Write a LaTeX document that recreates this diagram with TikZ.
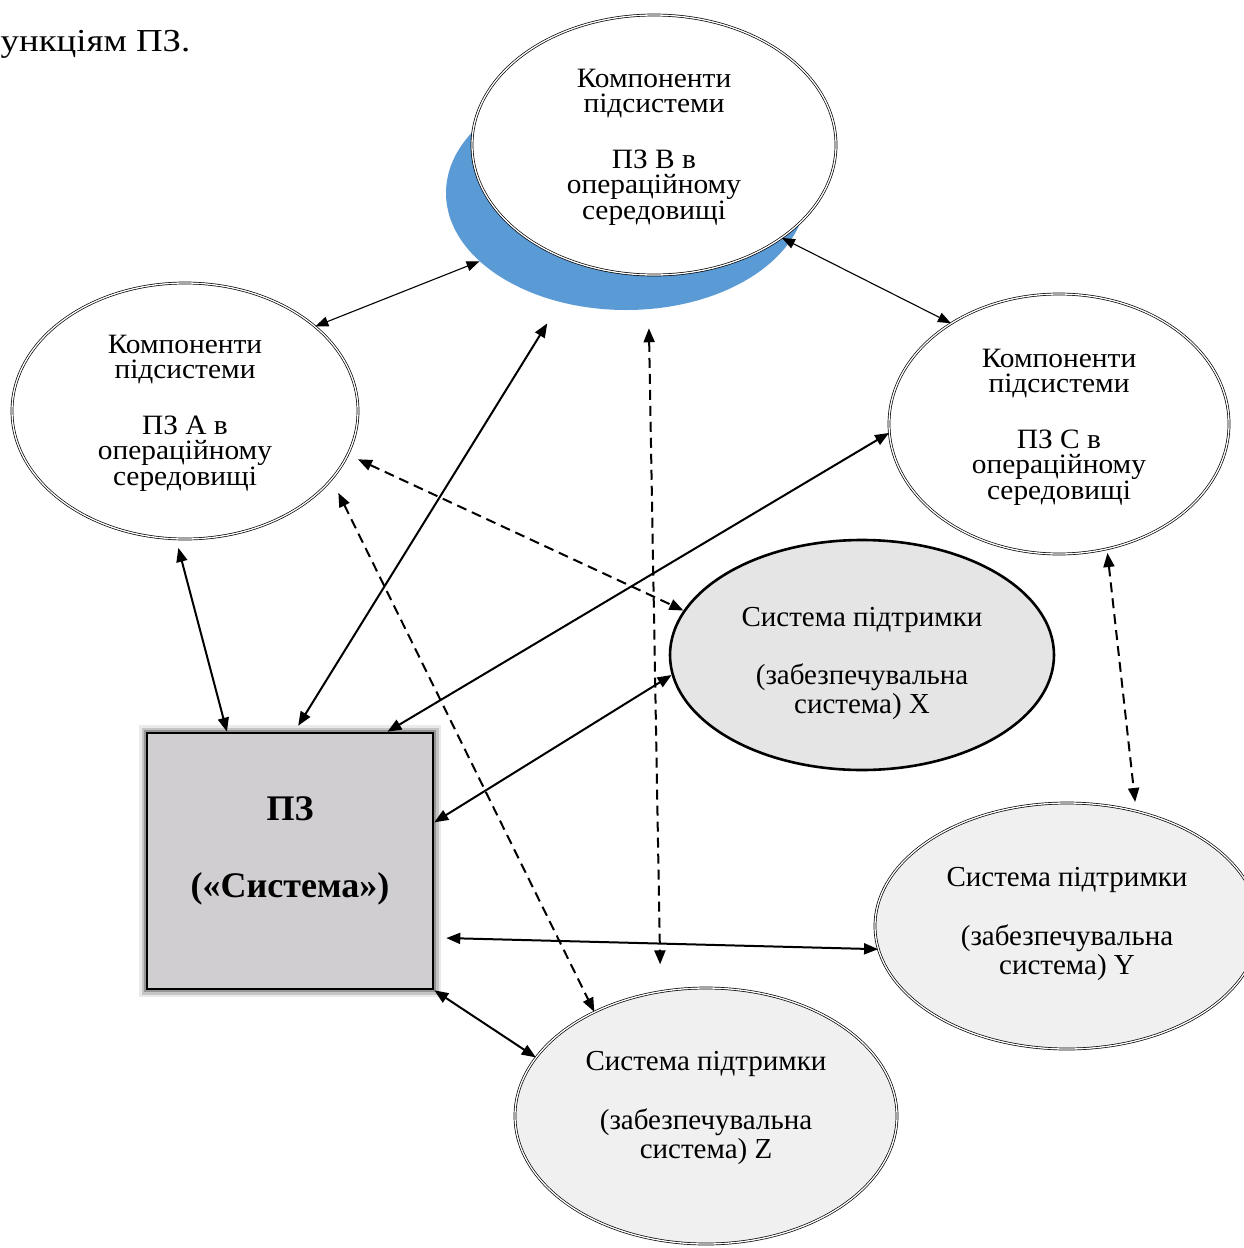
\documentclass[tikz,border=0pt]{standalone}
\usepackage{fontspec}
\setmainfont{Liberation Serif}
\newfontfamily\widefont{Liberation Serif}[FakeStretch=1.15]
\newfontfamily\ovalfont{Liberation Serif}[FakeStretch=1.05]
\usetikzlibrary{arrows.meta,shapes.geometric}
\definecolor{shadowblue}{HTML}{5B9BD5}
\definecolor{boxgray}{HTML}{D0CED1}
\definecolor{xgray}{HTML}{E5E5E5}
\definecolor{lightgray}{HTML}{F0F0F0}
\begin{document}
\begin{tikzpicture}[x=1pt,y=-1pt,
  oval/.style={ellipse, inner sep=0pt, draw=black, line width=0.7pt, double=white, double distance=1.3pt},
  boldoval/.style={ellipse, inner sep=0pt, draw=black, line width=2.6pt, fill=xgray},
  txt/.style={font=\ovalfont\fontsize{28}{30}\selectfont, inner sep=0pt, anchor=base},
  stxt/.style={font=\fontsize{29}{31}\selectfont, inner sep=0pt, anchor=base},
  btxt/.style={font=\fontsize{36}{38}\selectfont\bfseries, inner sep=0pt, anchor=base},
  link/.style={{Triangle[length=14pt,width=11pt]}-{Triangle[length=14pt,width=11pt]}, line width=2pt},
  thinlink/.style={{Triangle[length=13pt,width=10pt]}-{Triangle[length=13pt,width=10pt]}, line width=1.1pt},
  dsh/.style={link, dash pattern=on 10pt off 6pt}]
\useasboundingbox (0,0) rectangle (1244,1248);
\fill[white] (0,0) rectangle (1244,1248);

% top cut-off text
\node[font=\widefont\fontsize{32}{34}\selectfont, inner sep=0pt, anchor=base west] (top) at (0.5,51) {ункціям ПЗ.};

% shapes
\node[ellipse, fill=shadowblue, minimum width=360pt, minimum height=234pt, inner sep=0pt] (Bs) at (626,193) {};
\node[oval, fill=white, minimum width=364pt, minimum height=260pt] (B) at (654,145) {};
\node[oval, fill=white, minimum width=346pt, minimum height=256pt] (A) at (185,411) {};
\node[oval, fill=white, minimum width=340pt, minimum height=260pt] (C) at (1059,424) {};
\node[boldoval, minimum width=384pt, minimum height=230pt] (X) at (862,655) {};
\node[oval, fill=lightgray, minimum width=384pt, minimum height=246pt] (Y) at (1067,926) {};
\node[oval, fill=lightgray, minimum width=382pt, minimum height=256pt] (Z) at (706,1116) {};
\node[rectangle, draw=black, line width=2.6pt, fill=boxgray, minimum width=286pt, minimum height=256pt, inner sep=0pt,
      preaction={draw=black!40, line width=16pt, opacity=0.2},
      preaction={draw=black!50, line width=11pt, opacity=0.35},
      preaction={draw=black!60, line width=6pt, opacity=0.5}] (sq) at (290,861) {};

% texts
\node[txt] (b1) at (654,87) {Компоненти};
\node[txt] (b2) at (654,112.5) {підсистеми};
\node[txt] (b3) at (654,168) {ПЗ В в};
\node[txt] (b4) at (654,193.5) {операційному};
\node[txt] (b5) at (654,219.5) {середовищі};

\node[txt] (a1) at (185,353) {Компоненти};
\node[txt] (a2) at (185,378.5) {підсистеми};
\node[txt] (a3) at (185,434) {ПЗ А в};
\node[txt] (a4) at (185,459.5) {операційному};
\node[txt] (a5) at (185,485.5) {середовищі};

\node[txt] (c1) at (1059,367) {Компоненти};
\node[txt] (c2) at (1059,392.5) {підсистеми};
\node[txt] (c3) at (1059,448) {ПЗ С в};
\node[txt] (c4) at (1059,473.5) {операційному};
\node[txt] (c5) at (1059,499.5) {середовищі};

\node[stxt] (x1) at (862,626) {Система підтримки};
\node[stxt] (x2) at (862,684) {(забезпечувальна};
\node[stxt] (x3) at (862,713) {система) X};

\node[stxt] (y1) at (1067,886) {Система підтримки};
\node[stxt] (y2) at (1067,945) {(забезпечувальна};
\node[stxt] (y3) at (1067,974) {система) Y};

\node[stxt] (z1) at (706,1070) {Система підтримки};
\node[stxt] (z2) at (706,1129) {(забезпечувальна};
\node[stxt] (z3) at (706,1158) {система) Z};

\node[btxt] (s1) at (290,820) {ПЗ};
\node[btxt] (s2) at (290,897) {(«Система»)};

% connectors
\draw[thinlink] (A.33) -- (Bs.205);
\draw[thinlink] (B.324) -- (C.137.7);
\draw[link, shorten <=7pt, shorten >=25pt] (sq.88) -- (Bs.239);
\draw[link, shorten <=9pt] (A.266) -- (sq.116);
\draw[link] (sq.53) -- (C.183);
\draw[link] (sq.15) -- (X.186.5);
\draw[link, shorten <=12pt] (sq.332) -- (Y.187);
\draw[link] (sq.south east) -- (Z.161);
\draw[dsh, shorten <=11pt] (A.345) -- (X.166);
\draw[dsh, shorten <=15pt] (A.335) -- (Z.137);
\draw[dsh, shorten <=19pt, shorten >=27pt] (Bs.281) -- (Z.110);
\draw[dsh, shorten <=4pt, shorten >=9pt] (C.291.6) -- (Y.59);
\end{tikzpicture}
\end{document}
